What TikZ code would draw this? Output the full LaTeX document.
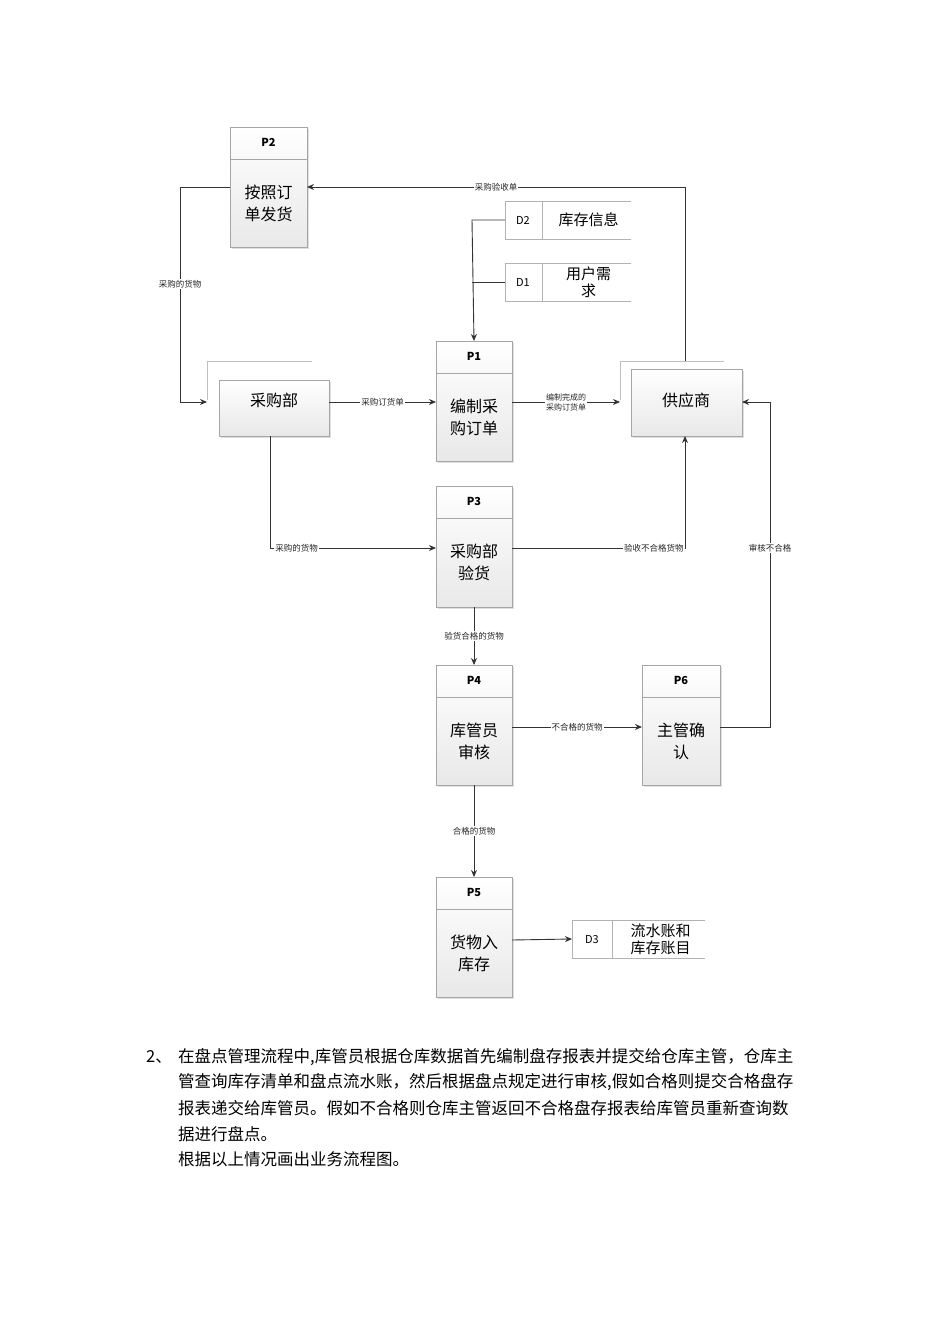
\documentclass[tikz,border=0pt]{standalone}
\usepackage{fontspec}
\setmainfont{Noto Sans CJK SC}
\usetikzlibrary{arrows.meta}
\begin{document}
\begin{tikzpicture}[x=1pt,y=-1pt,
 box/.style={draw=gray!70,top color=white,bottom color=gray!18},
 txt/.style={font=\fontsize{16}{22}\selectfont,align=center,inner sep=0},
 pl/.style={font=\fontsize{11}{13}\selectfont\bfseries,inner sep=0},
 lab/.style={font=\fontsize{8.5}{10}\selectfont,fill=white,inner sep=1pt,text=gray!30!black,align=center},
 ln/.style={draw=gray!40!black,line width=0.9pt},
 ar/.style={ln,-{Stealth[length=7pt,width=6pt]}},
 frame/.style={draw=gray!50,line width=0.5pt},
 par/.style={font=\fontsize{16.5}{19}\selectfont,anchor=west,inner sep=0}]
\useasboundingbox (0,0) rectangle (950,1344);
% shadows
\foreach \a/\b/\c/\d in {230/127/307/247,219/380/329/436,436/341/512/461,631/369/742/436,436/486/512/607,436/665/512/785,642/665/720/785,436/877/512/997}
  \fill[gray!25] (\a+2,\b+2) rectangle (\c+2,\d+2);
% processes
\newcommand{\proc}[7]{%
  \path[box] (#2,#3) rectangle (#4,#5);
  \draw[gray!70] (#2,#3+32) -- (#4,#3+32);
  \node[pl] (#1h) at ({(#2+#4)/2},#3+15) {#6};
  \node[txt] (#1) at ({(#2+#4)/2},{(#3+32+#5)/2}) {#7};
  \coordinate (#1W) at (#2,{(#3+#5)/2});
  \coordinate (#1E) at (#4,{(#3+#5)/2});
  \coordinate (#1N) at ({(#2+#4)/2},#3);
  \coordinate (#1S) at ({(#2+#4)/2},#5);}
\proc{p2}{230}{127}{307}{247}{P2}{按照订\\单发货}
\proc{p1}{436}{341}{512}{461}{P1}{编制采\\购订单}
\proc{p3}{436}{486}{512}{607}{P3}{采购部\\验货}
\proc{p4}{436}{665}{512}{785}{P4}{库管员\\审核}
\proc{p6}{642}{665}{720}{785}{P6}{主管确\\认}
\proc{p5}{436}{877}{512}{997}{P5}{货物入\\库存}
% externals
\path[box] (219,380) rectangle (329,436);
\node[txt] (cg) at (274,400) {采购部};
\draw[frame] (207,400) -- (207,361) -- (312,361);
\path[box] (631,369) rectangle (742,436);
\node[txt] (gy) at (686,400) {供应商};
\draw[frame] (620,400) -- (620,361) -- (724,361);
% data stores
\newcommand{\store}[7]{%
  \draw[gray!60] (#5,#3) -- (#2,#3) -- (#2,#4) -- (#5,#4);
  \draw[gray!60] (#6,#3) -- (#6,#4);
  \coordinate (#1W) at (#2,{(#3+#4)/2});
  \node[font=\fontsize{15}{17}\selectfont,align=center,inner sep=0] (#1t) at ({(#6+#5)/2+2},{(#3+#4)/2}) {#7};}
\store{d2}{505}{201}{239}{631}{542}{库存信息}
\node[font=\fontsize{11}{13}\selectfont] (d2l) at (523,220) {D2};
\store{d1}{505}{263}{301}{631}{542}{用户需\\求}
\node[font=\fontsize{11}{13}\selectfont] (d1l) at (523,282) {D1};
\store{d3}{572}{920}{958}{705}{612}{流水账和\\库存账目}
\node[font=\fontsize{11}{13}\selectfont] (d3l) at (592,940) {D3};
% connectors
\coordinate (gyN) at (685,361);
\coordinate (gyS) at (685,436);
\coordinate (gyE) at (742,402);
\coordinate (cgL) at (207,402);
\coordinate (cgR) at (329,402);
\coordinate (cgB) at (270,436);
\draw[ar] (gyN) -- (685,187) -- node[lab]{采购验收单} (307,187);
\draw[ar] (230,187) -- (180,187) -- node[lab,pos=0.45]{采购的货物} (180,402) -- (cgL);
\draw[ar] (d2W) -- (472,220) -- (p1N);
\draw[ln] (d1W) -- (472,282);
\draw[ar] (cgR) -- node[lab]{采购订货单} (436,402);
\draw[ar] (512,402) -- node[lab,font=\fontsize{8}{10}\selectfont]{编制完成的\\采购订货单} (620,402);
\draw[ar] (cgB) -- (270,548) -- node[lab,pos=0.16]{采购的货物} (436,548);
\draw[ar] (512,548) -- node[lab,pos=0.82]{验收不合格货物} (685,548) -- (gyS);
\draw[ar] (p3S) -- node[lab]{验货合格的货物} (p4N);
\draw[ar] (512,727) -- node[lab]{不合格的货物} (642,727);
\draw[ar] (720,727) -- (770,727) -- node[lab,pos=0.55]{审核不合格} (770,402) -- (gyE);
\draw[ar] (p4S) -- node[lab]{合格的货物} (p5N);
\draw[ar] (512,940) -- (d3W);
% paragraph
\node[par] (n2) at (146,1057) {2、};
\node[par] (l1) at (178,1057) {在盘点管理流程中,库管员根据仓库数据首先编制盘存报表并提交给仓库主管，仓库主};
\node[par] (l2) at (178,1082) {管查询库存清单和盘点流水账，然后根据盘点规定进行审核,假如合格则提交合格盘存};
\node[par] (l3) at (178,1108) {报表递交给库管员。假如不合格则仓库主管返回不合格盘存报表给库管员重新查询数};
\node[par] (l4) at (178,1134) {据进行盘点。};
\node[par] (l5) at (178,1159) {根据以上情况画出业务流程图。};
\end{tikzpicture}
\end{document}
